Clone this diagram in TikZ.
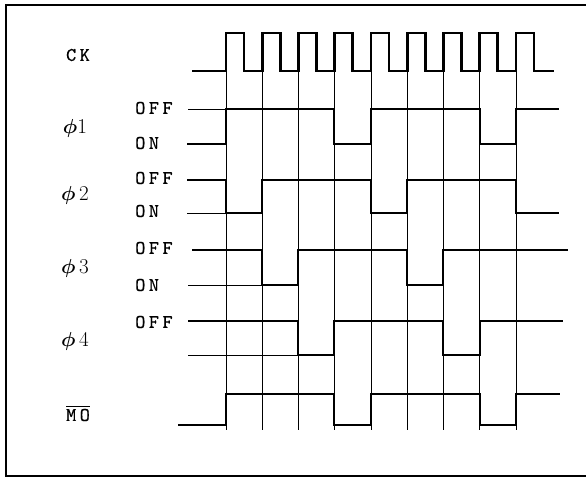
\documentclass[tikz,border=0pt]{standalone}
\usepackage{fontspec}
\newfontfamily\typefont{lmmono10-regular}[Extension=.otf, LetterSpace=18, FakeBold=0.5]
\usepackage{amsmath}

\begin{document}
\begin{tikzpicture}[x=0.03cm, y=-0.03cm]
        % ================= 样式 =================
        \tikzset{
            wave/.style={line width=2.2pt, line join=miter},
            gridline/.style={line width=0.6pt},
            refline/.style={line width=0.6pt},
            tt/.style={font=\typefont\fontsize{16.5}{16.5}\selectfont},
            lvl/.style={tt, anchor=west, inner sep=0pt},
            sig/.style={inner sep=0pt, font=\fontsize{18}{18}\selectfont}
        }
        \useasboundingbox (0,0) rectangle (586,477);

        % 外框 (右侧开口)
        \draw[line width=1.6pt] (586,5) -- (6,5) -- (6,476) -- (586,476);

        % ================= 竖直栅格线 =================
        \foreach \i in {0,...,8} {
            \pgfmathsetmacro{\gx}{226+36.25*\i}
            \draw[gridline] (\gx,71) -- (\gx,430);
        }

        % ================= 信号名 =================
        \node[tt, inner sep=0pt] (ck) at (78,55) {CK};
        \node[sig] (p1) at (75,128) {{\boldmath$\phi$}1};
        \node[sig] (p2) at (75,195) {{\boldmath$\phi$}\,2};
        \node[sig] (p3) at (75,268) {{\boldmath$\phi$}\,3};
        \node[sig] (p4) at (75,341) {{\boldmath$\phi$}\,4};
        \node[tt, inner sep=0pt] (mo) at (78,413) {$\overline{\hbox{MO}}$};

        % OFF / ON 标注
        \node[lvl] (off1) at (135,108) {OFF};
        \node[lvl] (on1)  at (135,143) {ON};
        \node[lvl] (off2) at (135,178) {OFF};
        \node[lvl] (on2)  at (135,211) {ON};
        \node[lvl] (off3) at (135,248) {OFF};
        \node[lvl] (on3)  at (135,285) {ON};
        \node[lvl] (off4) at (135,322) {OFF};

        % 参考细线
        \draw[refline] (188,109) -- (226,109);
        \draw[refline] (187,213) -- (226,213);
        \draw[refline] (188,285) -- (262,285);
        \draw[refline] (188,355) -- (298,355);

        % ================= 时钟 CK =================
        \draw[wave] (192,71) -- (226,71)
            \foreach \i in {0,...,8} {
                -- ({226+36.25*\i},33) -- ({244+36.25*\i},33)
                -- ({244+36.25*\i},71) -- ({262.25+36.25*\i},71)
            } -- (554,71);

        % ================= 四相信号 =================
        \draw[wave] (187,144) -| (226,109) -| (334,144) -| (371,109)
            -| (480,144) -| (516,109) -- (559,109);
        \draw[wave] (187,180) -| (226,213) -| (262,180) -| (371,213)
            -| (407,180) -| (516,213) -- (559,213);
        \draw[wave] (192,250) -| (262,285) -| (298,250) -| (407,285)
            -| (443,250) -- (568,250);
        \draw[wave] (188,321) -| (298,355) -| (334,321) -| (443,355)
            -| (480,321) -- (563,321);

        % ================= MO =================
        \draw[wave] (178,425) -| (226,394) -| (334,425) -| (371,394)
            -| (480,425) -| (516,394) -- (560,394);

    \end{tikzpicture}
\end{document}
